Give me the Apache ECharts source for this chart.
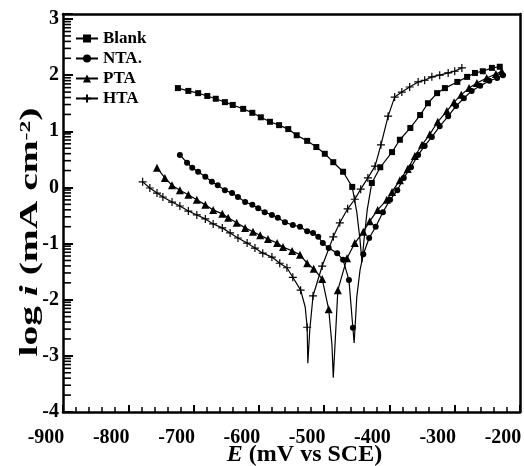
<!DOCTYPE html>
<html>
<head>
<meta charset="utf-8">
<script src="https://cdn.jsdelivr.net/npm/echarts@6/dist/echarts.min.js"></script>
<style>
html,body{margin:0;padding:0;background:#fff;}
#chart{width:524px;height:466px;}
</style>
</head>
<body>
<div id="chart"></div>
<script>
// ---- data: [E (mV vs SCE), log i] ----
const seriesNames = ['Blank', 'NTA.', 'PTA', 'HTA'];
const xTicks = [-900, -800, -700, -600, -500, -400, -300, -200];
const yTicks = [-4, -3, -2, -1, 0, 1, 2, 3];

const blankCathodic = [[-724,1.77],[-708,1.72],[-693,1.68],[-679,1.63],[-666,1.58],[-652,1.52],[-640,1.47],[-624,1.40],[-610,1.33],[-597,1.25],[-583,1.17],[-569,1.11],[-555,1.04],[-542,0.93],[-526,0.83],[-512,0.72],[-499,0.60],[-486,0.45],[-471,0.28],[-457,0.01]];
const blankDip = [[-450,-0.44],[-445,-0.94],[-442,-1.33],[-439,-0.94],[-434,-0.40]];
const blankAnodic = [[-427,0.08],[-414,0.36],[-396,0.63],[-384,0.85],[-368,1.06],[-353,1.29],[-341,1.50],[-327,1.68],[-315,1.77],[-296,1.88],[-281,1.97],[-269,2.04],[-257,2.07],[-243,2.13],[-231,2.15]];

const ntaCathodic = [[-721,0.58],[-710,0.44],[-702,0.35],[-693,0.28],[-682,0.19],[-672,0.10],[-663,0.04],[-652,-0.05],[-641,-0.10],[-632,-0.17],[-621,-0.26],[-610,-0.31],[-601,-0.37],[-591,-0.44],[-580,-0.49],[-571,-0.54],[-560,-0.62],[-548,-0.67],[-537,-0.70],[-526,-0.78],[-517,-0.81],[-509,-0.88],[-502,-0.99],[-493,-1.08],[-480,-1.17],[-471,-1.29],[-462,-1.65],[-456,-2.50]];
const ntaDip = [[-454,-2.77],[-450,-1.95],[-445,-1.47]];
const ntaAnodic = [[-440,-1.19],[-431,-0.90],[-421,-0.70],[-410,-0.44],[-399,-0.22],[-388,-0.05],[-378,0.17],[-367,0.36],[-356,0.58],[-346,0.74],[-335,0.90],[-323,1.09],[-310,1.27],[-298,1.45],[-286,1.59],[-274,1.72],[-261,1.81],[-247,1.90],[-235,1.95],[-226,2.00]];

const ptaCathodic = [[-756,0.35],[-744,0.17],[-733,0.04],[-721,-0.05],[-708,-0.13],[-695,-0.22],[-682,-0.31],[-670,-0.40],[-656,-0.47],[-647,-0.54],[-634,-0.63],[-621,-0.72],[-609,-0.79],[-598,-0.85],[-586,-0.92],[-572,-0.99],[-563,-1.06],[-549,-1.13],[-537,-1.20],[-526,-1.35],[-516,-1.45],[-503,-1.63],[-493,-2.17]];
const ptaDip = [[-488,-2.81],[-486,-3.39],[-483,-2.72]];
const ptaAnodic = [[-479,-1.83],[-465,-1.26],[-453,-0.99],[-440,-0.79],[-430,-0.60],[-418,-0.40],[-404,-0.22],[-396,-0.08],[-384,0.13],[-372,0.33],[-361,0.56],[-350,0.76],[-338,0.95],[-326,1.17],[-312,1.36],[-301,1.52],[-290,1.65],[-278,1.77],[-266,1.86],[-251,1.95],[-237,2.02],[-228,2.07]];

const htaCathodic = [[-778,0.10],[-767,-0.01],[-756,-0.10],[-747,-0.17],[-733,-0.26],[-721,-0.33],[-708,-0.42],[-695,-0.49],[-682,-0.56],[-670,-0.65],[-656,-0.72],[-644,-0.81],[-632,-0.90],[-618,-0.99],[-606,-1.08],[-594,-1.17],[-580,-1.24],[-568,-1.35],[-557,-1.43],[-548,-1.60],[-536,-1.83],[-526,-2.49]];
const htaDip = [[-529,-2.13],[-525,-3.13],[-522,-2.54]];
const htaAnodic = [[-517,-1.93],[-503,-1.40],[-486,-0.88],[-476,-0.63],[-464,-0.38],[-453,-0.21],[-444,-0.03],[-433,0.17],[-422,0.38],[-413,0.76],[-402,1.27],[-392,1.61],[-381,1.70],[-369,1.79],[-356,1.88],[-346,1.91],[-335,1.97],[-323,2.00],[-310,2.04],[-300,2.07],[-289,2.13]];

// log-style minor tick multipliers inside each decade of the y axis
const minorMultipliers = [2, 3, 4, 5, 6, 7, 8, 9];
const yMin = -4, yMax = 3.09, xMin = -900, xMax = -200;

// ---- build ----
const FONT = '"Liberation Serif", "Times New Roman", serif';
function joinCurve(c, d, a) { return c.concat(d, a); }
function sizeFn(c, d, size) {
  return function (val, params) {
    const i = params.dataIndex;
    return (i >= c.length && i < c.length + d.length) ? 0 : size;
  };
}
const htaData = joinCurve(htaCathodic.slice(0, -1), htaDip.slice(0,1).concat([htaCathodic[htaCathodic.length-1]], htaDip.slice(1)), htaAnodic);

const minorTickData = [];
for (let n = yMin; n < Math.ceil(yMax); n++) {
  minorMultipliers.forEach(function (k) {
    const v = n + Math.log10(k);
    if (v <= yMax) minorTickData.push([xMin, v]);
  });
}

const crossPath = 'path://M0 5L10 5M5 0L5 10';
function lineSeries(name, data, symbol, sizeF, extra) {
  return Object.assign({
    name: name, type: 'line', data: data,
    symbol: symbol, symbolSize: sizeF, showAllSymbol: true,
    lineStyle: { color: '#000', width: 1.2 },
    itemStyle: { color: '#000', borderColor: '#000', borderWidth: 0 },
    emphasis: { disabled: true }, animation: false, z: 3
  }, extra || {});
}
const blackLine = { show: true, onZero: false, lineStyle: { color: '#000', width: 2.5 } };

const chart = echarts.init(document.getElementById('chart'), null, { renderer: 'canvas' });
chart.setOption({
  backgroundColor: '#fff',
  animation: false,
  grid: { left: 63, right: 4, top: 14, bottom: 54, containLabel: false, outerBoundsMode: 'none' },
  legend: {
    data: seriesNames, orient: 'vertical', left: 70, top: 25,
    itemWidth: 22, itemHeight: 10, itemGap: 3,
    textStyle: { fontFamily: FONT, fontWeight: 'bold', fontSize: 17, color: '#000' },
    selectedMode: false
  },
  graphic: [{
    type: 'text', x: 31, y: 232, rotation: Math.PI / 2, scaleX: 1.58, z: 10,
    style: {
      text: '{n|log }{i|i}{n| (mA cm}{s|-2}{n|)}', align: 'center', verticalAlign: 'middle',
      rich: {
        i: { fontFamily: FONT, fontWeight: 'bold', fontStyle: 'italic', fontSize: 25, fill: '#000' },
        n: { fontFamily: FONT, fontWeight: 'bold', fontSize: 25, fill: '#000' },
        s: { fontFamily: FONT, fontWeight: 'bold', fontSize: 15, fill: '#000', verticalAlign: 'top' }
      }
    }
  }],
  xAxis: [{
    type: 'value', min: xMin, max: xMax, interval: 100, position: 'bottom',
    name: '{i|E}{n| (mV vs SCE)}', nameLocation: 'middle', nameGap: 31, nameMoveOverlap: false,
    nameTextStyle: { padding: [0, 0, 0, 26], rich: {
      i: { fontFamily: FONT, fontWeight: 'bold', fontStyle: 'italic', fontSize: 24, color: '#000' },
      n: { fontFamily: FONT, fontWeight: 'bold', fontSize: 24, color: '#000' } } },
    axisLine: blackLine,
    axisTick: { show: true, inside: true, length: 7, lineStyle: { color: '#000', width: 2 } },
    minorTick: { show: true, splitNumber: 5, length: 5, lineStyle: { color: '#000', width: 1.5 } },
    splitLine: { show: false },
    axisLabel: { show: true, fontFamily: FONT, fontWeight: 'bold', fontSize: 20, color: '#000', margin: 16, padding: [0, 34, 0, 0],
      formatter: function (v) { return xTicks.indexOf(v) >= 0 ? String(v) : ''; } }
  }, {
    type: 'value', min: xMin, max: xMax, position: 'top',
    axisLine: blackLine, axisTick: { show: false }, axisLabel: { show: false }, splitLine: { show: false }
  }],
  yAxis: [{
    type: 'value', min: yMin, max: yMax, interval: 1, position: 'left',
    axisLine: blackLine,
    axisTick: { show: true, inside: true, length: 10, lineStyle: { color: '#000', width: 2 } },
    splitLine: { show: false },
    axisLabel: { show: true, fontFamily: FONT, fontWeight: 'bold', fontSize: 20, color: '#000', margin: 4,
      formatter: function (v) { return yTicks.indexOf(Math.round(v)) >= 0 && Math.abs(v - Math.round(v)) < 1e-6 ? String(v) : ''; } }
  }, {
    type: 'value', min: yMin, max: yMax, position: 'right',
    axisLine: blackLine, axisTick: { show: false }, axisLabel: { show: false }, splitLine: { show: false }
  }],
  series: [
    lineSeries('Blank', joinCurve(blankCathodic, blankDip, blankAnodic), 'rect', sizeFn(blankCathodic, blankDip, 6)),
    lineSeries('NTA.', joinCurve(ntaCathodic, ntaDip, ntaAnodic), 'circle', sizeFn(ntaCathodic, ntaDip, 6)),
    lineSeries('PTA', joinCurve(ptaCathodic, ptaDip, ptaAnodic), 'triangle', sizeFn(ptaCathodic, ptaDip, 8)),
    lineSeries('HTA', htaData, crossPath, function (val, params) {
      const i = params.dataIndex, c = htaCathodic.length - 1;
      return (i === c || (i > c + 1 && i < c + htaDip.length + 1)) ? 0 : 8;
    }, { itemStyle: { color: 'none', borderColor: '#000', borderWidth: 1.2 } }),
    {
      type: 'custom', clip: false, z: 5, data: minorTickData,
      renderItem: function (params, api) {
        const p = api.coord([api.value(0), api.value(1)]);
        return { type: 'line', shape: { x1: p[0], y1: p[1], x2: p[0] + 8, y2: p[1] }, style: { stroke: '#000', lineWidth: 1.6 } };
      }
    }
  ]
});
</script>
</body>
</html>
